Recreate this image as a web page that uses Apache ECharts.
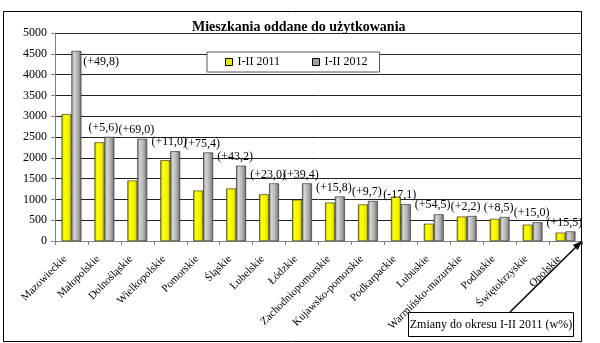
<!DOCTYPE html>
<html>
<head>
<meta charset="utf-8">
<script src="https://cdn.jsdelivr.net/npm/echarts@6/dist/echarts.min.js"></script>
<style>
html,body{margin:0;padding:0;background:#fff;}
#c{width:600px;height:343px;}
</style>
</head>
<body>
<div id="c"></div>
<script>
const categories = ['Mazowieckie','Małopolskie','Dolnośląskie','Wielkopolskie','Pomorskie','Śląskie','Lubelskie','Łódzkie','Zachodniopomorskie','Kujawsko-pomorskie','Podkarpackie','Lubuskie','Warmińsko-mazurskie','Podlaskie','Świętokrzyskie','Opolskie'];
const values2011 = [3050, 2372, 1453, 1942, 1212, 1262, 1122, 993, 923, 878, 1066, 415, 588, 533, 392, 200];
const values2012 = [4570, 2503, 2456, 2157, 2128, 1810, 1385, 1385, 1070, 963, 884, 641, 601, 578, 450, 231];
const changes = ['(+49,8)','(+5,6)','(+69,0)','(+11,0)','(+75,4)','(+43,2)','(+23,0)','(+39,4)','(+15,8)','(+9,7)','(-17,1)','(+54,5)','(+2,2)','(+8,5)','(+15,0)','(+15,5)'];
const yTicks = {min: 0, max: 5000, interval: 500};
const seriesNames = ['I-II 2011', 'I-II 2012'];
const titleText = 'Mieszkania oddane do użytkowania';
const noteText = 'Zmiany do okresu I-II 2011 (w%)';

const FONT = "'Liberation Serif', 'Times New Roman', serif";
const yellowGrad = new echarts.graphic.LinearGradient(0,0,1,0,[
  {offset:0,color:'#8c8c00'},{offset:0.22,color:'#ffff00'},{offset:0.7,color:'#f2f200'},{offset:1,color:'#b8b800'}]);
const grayGrad = new echarts.graphic.LinearGradient(0,0,1,0,[
  {offset:0,color:'#7a7a7a'},{offset:0.25,color:'#d6d6d6'},{offset:0.6,color:'#b4b4b4'},{offset:1,color:'#6e6e6e'}]);

const chart = echarts.init(document.getElementById('c'), null, {renderer:'canvas'});

const data2012 = values2012.map((v, i) => {
  if (i === 0) {
    return {value: v, label: {position: ['100%', 5], align: 'left', verticalAlign: 'top', offset: [2, 0]}};
  }
  return v;
});

chart.setOption({
  animation: false,
  backgroundColor: '#fff',
  title: {
    text: titleText, left: 187, top: 15,
    textStyle: {fontFamily: FONT, fontSize: 14, fontWeight: 'bold', color: '#000'}
  },
  legend: {
    left: 207, top: 52,
    padding: [4, 12, 4, 18],
    itemGap: 32, itemWidth: 7, itemHeight: 7,
    backgroundColor: '#fff', borderColor: '#555', borderWidth: 1,
    textStyle: {fontFamily: FONT, fontSize: 12, color: '#000'},
    data: [
      {name: seriesNames[0], icon: 'rect', itemStyle: {color: '#e8e800', borderColor: '#000', borderWidth: 1}},
      {name: seriesNames[1], icon: 'rect', itemStyle: {color: '#a0a0a0', borderColor: '#000', borderWidth: 1}}
    ]
  },
  grid: {left: 55, right: 18, top: 33, bottom: 102, containLabel: false},
  xAxis: {
    type: 'category', data: categories,
    axisLine: {lineStyle: {color: '#808080', width: 1}},
    axisTick: {show: true, length: 4, lineStyle: {color: '#808080'}},
    axisLabel: {rotate: 45, margin: 10, padding: [0, 9, 0, 0], interval: 0, fontFamily: FONT, fontSize: 11, color: '#000'}
  },
  yAxis: {
    type: 'value', min: yTicks.min, max: yTicks.max, interval: yTicks.interval,
    axisLine: {show: true, lineStyle: {color: '#808080', width: 1}},
    axisTick: {show: true, length: 4, lineStyle: {color: '#808080'}},
    axisLabel: {margin: 8, fontFamily: FONT, fontSize: 12, color: '#000', formatter: v => String(v)},
    splitLine: {lineStyle: {color: '#222', width: 1}}
  },
  series: [
    {
      name: seriesNames[0], type: 'bar', data: values2011,
      barGap: '0%', barCategoryGap: '40%',
      itemStyle: {color: yellowGrad, borderColor: '#222', borderWidth: 0.6}
    },
    {
      name: seriesNames[1], type: 'bar', data: data2012,
      itemStyle: {color: grayGrad, borderColor: '#222', borderWidth: 0.6},
      label: {
        show: true, position: 'top', distance: 3, offset: [-6, 0],
        fontFamily: FONT, fontSize: 12, color: '#000',
        formatter: p => changes[p.dataIndex]
      }
    }
  ],
  graphic: [
    {type: 'rect', z: -1, silent: true, shape: {x: 3.5, y: 11.5, width: 578, height: 330},
     style: {fill: 'none', stroke: '#000', lineWidth: 1}},
    {type: 'line', z: 100, shape: {x1: 510, y1: 312, x2: 578, y2: 245},
     style: {stroke: '#000', lineWidth: 1.5}},
    {type: 'polygon', z: 100, shape: {points: [[582, 241], [577.8, 250.1], [572.8, 245.1]]},
     style: {fill: '#000'}},
    {type: 'rect', z: 100, shape: {x: 408.5, y: 312.5, width: 165, height: 24},
     style: {fill: '#fff', stroke: '#000', lineWidth: 1}},
    {type: 'text', z: 101, x: 491, y: 324.5,
     style: {text: noteText, font: "12px 'Liberation Serif', 'Times New Roman', serif", fill: '#000', align: 'center', verticalAlign: 'middle'}}
  ]
});
</script>
</body>
</html>
